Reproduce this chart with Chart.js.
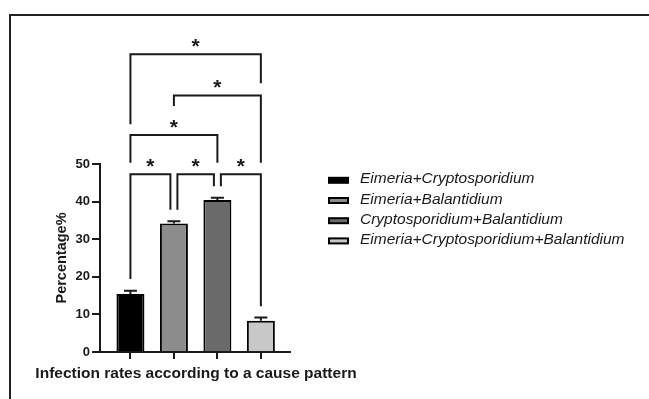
<!DOCTYPE html>
<html>
<head>
<meta charset="utf-8">
<script src="https://cdn.jsdelivr.net/npm/chart.js@4"></script>
<style>
  html, body { margin: 0; padding: 0; background: #fff; overflow: hidden; }
  #wrap { position: relative; width: 649px; height: 399px; }
  #frame { position: absolute; left: 9px; top: 14px; width: 700px; height: 500px;
           border-top: 2px solid #222; border-left: 2px solid #222; }
  canvas { position: absolute; left: 0; top: 0; }
</style>
</head>
<body>
<div id="wrap">
  <div id="frame"></div>
  <canvas id="chart" width="649" height="399"></canvas>
</div>
<script>
// Daten
const labels = ['Eimeria+Cryptosporidium', 'Eimeria+Balantidium', 'Cryptosporidium+Balantidium', 'Eimeria+Cryptosporidium+Balantidium'];
const values = [15.4, 34.2, 40.4, 8.3];
const errors = [0.9, 0.6, 0.6, 0.9];
const barColors = ['#000000', '#8c8c8c', '#6a6a6a', '#c8c8c8'];
const xTitle = 'Infection rates according to a cause pattern';
const yTitle = 'Percentage%';

// Signifikanz-Klammern (Paare, Höhe der Querlinie, unteres Ende der Beine, Beschriftung)
const sigPairs = [[0, 1], [1, 2], [2, 3], [0, 2], [1, 3], [0, 3]];
const sigLevels = [47.3, 47.3, 47.3, 57.7, 68.2, 79.2];
const sigLegEnds = [[19.4, 37.8], [37.8, 44.1], [44.1, 12.2], [50.3, 50.3], [65.4, 50.3], [60.6, 71.5]];
const sigLabels = ['*', '*', '*', '*', '*', '*'];

const yMin = 0, yMax = 50, yStep = 10;

const FONT = "'Liberation Sans', Arial, sans-serif";
const INK = '#1a1a1a';

// Fehlerbalken (nur nach oben)
const errorBars = {
    id: 'errorBars',
    afterDatasetsDraw(chart) {
        const ctx = chart.ctx;
        const y = chart.scales.y;
        const meta = chart.getDatasetMeta(0);
        ctx.save();
        ctx.strokeStyle = INK;
        ctx.lineWidth = 2;
        meta.data.forEach((bar, i) => {
            const top = y.getPixelForValue(values[i] + errors[i]);
            const base = y.getPixelForValue(values[i]);
            ctx.beginPath();
            ctx.moveTo(bar.x, base);
            ctx.lineTo(bar.x, top);
            ctx.moveTo(bar.x - 6.5, top);
            ctx.lineTo(bar.x + 6.5, top);
            ctx.stroke();
        });
        ctx.restore();
    }
};

// Klammern mit Sternchen
const sigBrackets = {
    id: 'sigBrackets',
    afterDraw(chart) {
        const ctx = chart.ctx;
        const x = chart.scales.x, y = chart.scales.y;
        const n = labels.length;
        const gap = 3.5;
        ctx.save();
        ctx.strokeStyle = INK;
        ctx.fillStyle = INK;
        ctx.lineWidth = 2;
        ctx.font = 'bold 21px ' + FONT;
        ctx.textAlign = 'center';
        ctx.textBaseline = 'alphabetic';
        sigPairs.forEach(([a, b], k) => {
            let x1 = x.getPixelForValue(a);
            let x2 = x.getPixelForValue(b);
            if (b - a === 1) {
                if (a > 0) x1 += gap;
                if (b < n - 1) x2 -= gap;
            }
            const yl = y.getPixelForValue(sigLevels[k]);
            const y1 = y.getPixelForValue(sigLegEnds[k][0]);
            const y2 = y.getPixelForValue(sigLegEnds[k][1]);
            ctx.beginPath();
            ctx.moveTo(x1, y1);
            ctx.lineTo(x1, yl);
            ctx.lineTo(x2, yl);
            ctx.lineTo(x2, y2);
            ctx.stroke();
            ctx.fillText(sigLabels[k], (x1 + x2) / 2, yl - 1.5);
        });
        ctx.restore();
    }
};

// Legende rechts und x-Achsentitel (breiter als die Achse)
const sideText = {
    id: 'sideText',
    afterDraw(chart) {
        const ctx = chart.ctx;
        const area = chart.chartArea;
        const colors = chart.data.datasets[0].backgroundColor;
        ctx.save();
        ctx.font = 'italic 15.5px ' + FONT;
        ctx.textBaseline = 'alphabetic';
        ctx.textAlign = 'left';
        chart.data.labels.forEach((label, i) => {
            const cy = 180.3 + i * 20.2;
            ctx.fillStyle = '#000';
            ctx.fillRect(328, cy - 3.5, 21, 7);
            ctx.fillStyle = colors[i];
            ctx.fillRect(330, cy - 1.5, 17, 3);
            ctx.fillStyle = INK;
            ctx.fillText(label, 360, cy + 3);
        });
        ctx.font = 'bold 15.5px ' + FONT;
        ctx.textAlign = 'center';
        ctx.fillText(xTitle, (area.left + area.right) / 2 + 1, 377.7);
        ctx.restore();
    }
};

function main() {
    new Chart(document.getElementById('chart').getContext('2d'), {
        type: 'bar',
        data: {
            labels,
            datasets: [{
                data: values.map((v, i) => ({ x: i, y: v })),
                backgroundColor: barColors,
                borderColor: '#000',
                borderWidth: 2,
                barPercentage: 0.644,
                categoryPercentage: 1
            }]
        },
        options: {
            responsive: false,
            devicePixelRatio: 1,
            animation: false,
            layout: { padding: { top: 164, right: 359, bottom: 0, left: 0 } },
            plugins: { legend: { display: false }, tooltip: { enabled: false } },
            scales: {
                x: {
                    type: 'linear',
                    min: -0.70,
                    max: 3.67,
                    offset: false,
                    afterBuildTicks: s => { s.ticks = labels.map((_, i) => ({ value: i })); },
                    afterFit: s => { s.height = 47; },
                    ticks: { callback: () => '', padding: 0 },
                    grid: { display: true, offset: false, drawOnChartArea: false, drawTicks: true, tickLength: 7, lineWidth: 2, color: INK },
                    border: { display: true, width: 2, color: INK },
                    title: { display: false }
                },
                y: {
                    min: yMin,
                    max: yMax,
                    afterFit: s => { s.width = 100; },
                    ticks: { stepSize: yStep, padding: 2, color: INK, font: { family: FONT, size: 13, weight: 'bold' } },
                    grid: { display: true, drawOnChartArea: false, drawTicks: true, tickLength: 8, lineWidth: 2, color: INK },
                    border: { display: true, width: 2, color: INK },
                    title: {
                        display: true,
                        text: yTitle,
                        color: INK,
                        font: { family: FONT, size: 14.5, weight: 'bold' },
                        padding: { top: 53.3, bottom: 0 }
                    }
                }
            }
        },
        plugins: [errorBars, sigBrackets, sideText]
    });
}

window.addEventListener('DOMContentLoaded', main);
</script>
</body>
</html>
